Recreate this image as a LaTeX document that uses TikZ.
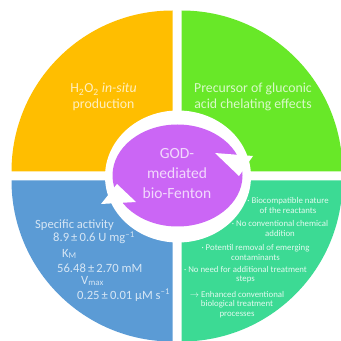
\documentclass[tikz,border=0pt]{standalone}
\usepackage{fontspec}
\setmainfont{Carlito}

\definecolor{godYellow}{RGB}{255,190,0}
\definecolor{godGreen}{RGB}{104,232,40}
\definecolor{godBlue}{RGB}{91,155,213}
\definecolor{godTeal}{RGB}{60,218,148}
\definecolor{godPurple}{RGB}{203,102,245}

\begin{document}
\begin{tikzpicture}[
    x=1pt, y=1pt,
    every node/.style={align=center, inner sep=0pt, text=white, text opacity=0.75},
    big label/.style={font=\fontsize{13.8}{15.5}\selectfont},
    core label/.style={font=\fontsize{15.5}{20}\selectfont},
    data label/.style={font=\fontsize{12.6}{14}\selectfont, anchor=west},
    small label/.style={font=\fontsize{8.8}{9.2}\selectfont, text opacity=0.85}
]
\def\R{161}

\useasboundingbox (0,0) rectangle (341,341);

% Quadrants
\fill[godYellow] (172.5,169.5) -- ++(-\R,0) arc[start angle=180, end angle=90, radius=\R] -- cycle;
\fill[godGreen]  (181.5,169.5) -- ++(0,\R) arc[start angle=90, end angle=0, radius=\R] -- cycle;
\fill[godTeal]   (181.5,160.5) -- ++(\R,0) arc[start angle=0, end angle=-90, radius=\R] -- cycle;
\fill[godBlue]   (172.5,160.5) -- ++(0,-\R) arc[start angle=270, end angle=180, radius=\R] -- cycle;

% White cycle ring
\fill[white] (178,164.5) ellipse[x radius=73, y radius=66];

% Centre
\fill[godPurple] (177.5,165.5) ellipse[x radius=65, y radius=51];

% Arrow heads of the cycle
\fill[white] (215,188) -- (253,185) -- (239,165) -- cycle;
\fill[white] (101,137) -- (136,139) -- (117,157) -- cycle;

\node[core label] (core) at (177,167) {GOD-\\mediated\\bio-Fenton};

% Top labels
\node[big label] (h2o2) at (103.5,244) {H\textsubscript{2}O\textsubscript{2} \textit{in-situ}\\production};
\node[big label] (gluconic) at (253,244) {Precursor of gluconic\\acid chelating effects};

% Kinetic data
\node[data label] (activity) at (35,116) {Specific activity};
\node[data label] (activityval) at (53,103) {8.9\,±\,0.6 U mg\textsuperscript{–1}};
\node[data label] (km) at (62,87) {K\textsubscript{M}};
\node[data label] (kmval) at (57,73) {56.48\,±\,2.70 mM};
\node[data label] (vmax) at (81,60) {V\textsubscript{max}};
\node[data label] (vmaxval) at (77,46) {0.25\,±\,0.01 µM s\textsuperscript{–1}};

% Benefits
\node[small label] (b1) at (288,135.5) {· Biocompatible nature\\of the reactants};
\node[small label] (b2) at (280,112.5) {· No conventional chemical\\addition};
\node[small label] (b3) at (255.5,88.5) {· Potentil removal of emerging\\contaminants};
\node[small label] (b4) at (245.5,66.5) {· No need for additional treatment\\steps};
\node[small label] (b5) at (237,36.5) {$\rightarrow$ Enhanced conventional\\biological treatment\\processes};

\end{tikzpicture}
\end{document}
